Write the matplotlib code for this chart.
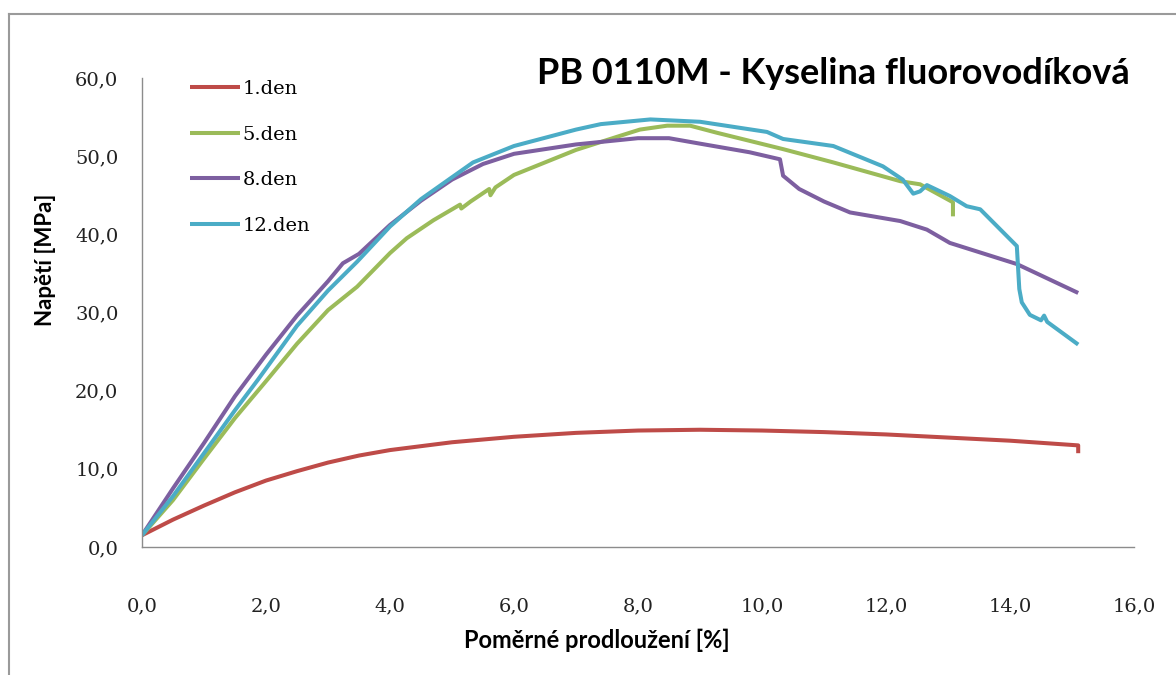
import matplotlib
matplotlib.use("Agg")
import matplotlib.pyplot as plt
from matplotlib.lines import Line2D
from matplotlib.ticker import FuncFormatter, MultipleLocator

# ---- data ----
series_names = ["1.den", "5.den", "8.den", "12.den"]
series_colors = ["#BE4B48", "#9BBB59", "#7D5FA0", "#4BACC6"]

x_den1 = [0.0, 0.5, 1.0, 1.5, 2.0, 2.5, 3.0, 3.5, 4.0, 5.0, 6.0, 7.0, 8.0, 9.0,
          10.0, 11.0, 12.0, 13.0, 14.0, 15.1, 15.1]
y_den1 = [1.5, 3.5, 5.3, 7.0, 8.5, 9.7, 10.8, 11.7, 12.4, 13.4, 14.1, 14.6, 14.9, 15.0,
          14.9, 14.7, 14.4, 14.0, 13.6, 13.0, 12.0]

x_den5 = [0.0, 0.5, 1.0, 1.5, 2.02, 2.5, 3.0, 3.47, 4.0, 4.27, 4.7, 5.13, 5.15, 5.3,
          5.6, 5.62, 5.7, 6.0, 7.0, 7.71, 8.03, 8.47, 8.84, 9.27, 10.34, 11.15,
          12.23, 12.55, 13.08, 13.08]
y_den5 = [1.5, 6.0, 11.3, 16.5, 21.4, 26.0, 30.3, 33.3, 37.6, 39.5, 41.8, 43.8, 43.3, 44.2,
          45.8, 45.0, 46.0, 47.6, 50.8, 52.6, 53.4, 53.9, 53.9, 53.0, 50.9, 49.2,
          46.8, 46.4, 44.1, 42.3]

x_den8 = [0.0, 0.5, 1.0, 1.5, 2.0, 2.5, 3.0, 3.24, 3.5, 4.0, 4.5, 5.0, 5.5, 6.0, 7.0,
          8.0, 8.5, 9.0, 9.8, 10.29, 10.34, 10.6, 11.0, 11.42, 12.23, 12.66, 13.03,
          14.11, 15.1]
y_den8 = [1.5, 7.5, 13.3, 19.3, 24.6, 29.6, 34.0, 36.3, 37.5, 41.2, 44.3, 47.0, 49.0, 50.3, 51.5,
          52.3, 52.3, 51.6, 50.5, 49.6, 47.5, 45.8, 44.2, 42.8, 41.7, 40.6, 38.9,
          36.2, 32.5]

x_den12 = [0.0, 0.5, 1.0, 1.5, 1.87, 2.5, 3.0, 3.47, 4.0, 4.5, 5.0, 5.34, 6.0, 7.0, 7.4,
           8.2, 9.0, 10.08, 10.34, 11.15, 11.95, 12.27, 12.44, 12.55, 12.66, 13.03, 13.3,
           13.52, 14.11, 14.15, 14.19, 14.32, 14.5, 14.55, 14.6, 15.1]
y_den12 = [1.5, 6.5, 12.0, 17.5, 21.4, 28.3, 32.8, 36.5, 41.0, 44.5, 47.3, 49.2, 51.3, 53.4, 54.1,
           54.7, 54.4, 53.1, 52.2, 51.3, 48.7, 47.0, 45.2, 45.5, 46.3, 44.9, 43.6,
           43.2, 38.5, 33.0, 31.3, 29.7, 29.0, 29.6, 28.8, 25.9]

title_text = "PB 0110M - Kyselina fluorovodíková"
xlabel_text = "Poměrné prodloužení [%]"
ylabel_text = "Napětí [MPa]"

# ---- figure ----
W, H = 1176, 675
fig = plt.figure(figsize=(W / 100, H / 100), dpi=100)
fig.patch.set_facecolor("white")

ax = fig.add_axes([142 / W, 1 - 547 / H, (1134 - 142) / W, (547 - 78) / H])

xs = [x_den1, x_den5, x_den8, x_den12]
ys = [y_den1, y_den5, y_den8, y_den12]
for xv, yv, c, n in zip(xs, ys, series_colors, series_names):
    ax.plot(xv, yv, color=c, lw=2.9, solid_capstyle="butt", solid_joinstyle="round", label=n)

ax.set_xlim(0, 16)
ax.set_ylim(0, 60)
ax.xaxis.set_major_locator(MultipleLocator(2))
ax.yaxis.set_major_locator(MultipleLocator(10))
fmt = FuncFormatter(lambda v, p: f"{v:.1f}".replace(".", ","))
ax.xaxis.set_major_formatter(fmt)
ax.yaxis.set_major_formatter(fmt)

for s in ["top", "right"]:
    ax.spines[s].set_visible(False)
for s in ["left", "bottom"]:
    ax.spines[s].set_color("#8C8C8C")
    ax.spines[s].set_linewidth(1.0)
ax.tick_params(axis="both", length=0, labelsize=14, colors="#222222")
ax.tick_params(axis="x", pad=36)
ax.tick_params(axis="y", pad=17)
for lab in ax.get_xticklabels() + ax.get_yticklabels():
    lab.set_family("DejaVu Serif")

fig.text(597 / W, 1 - 640 / H, xlabel_text, fontsize=17, fontweight="bold", family="Lato",
         ha="center", va="center")
fig.text(45 / W, 1 - 260 / H, ylabel_text, fontsize=16, fontweight="bold", family="Lato",
         ha="center", va="center", rotation=90)

fig.text(833 / W, 1 - 74 / H, title_text, fontsize=26, family="Lato", fontweight="bold",
         ha="center", va="center", color="black")

leg = ax.legend(loc="upper left", bbox_to_anchor=(190 / W, 1 - 80 / H),
                bbox_transform=fig.transFigure, frameon=False, borderpad=0,
                borderaxespad=0, handlelength=2.55, handletextpad=0.15,
                labelspacing=1.42, prop={"family": "DejaVu Serif", "size": 14})

# figure border (top and left visible in the reference)
fig.add_artist(Line2D([9 / W, 1.0], [1 - 14 / H, 1 - 14 / H], transform=fig.transFigure,
                      color="#9A9A9A", lw=1.5))
fig.add_artist(Line2D([9 / W, 9 / W], [0, 1 - 14 / H], transform=fig.transFigure,
                      color="#9A9A9A", lw=1.5))

fig.savefig("out.png", dpi=100, facecolor="white")
